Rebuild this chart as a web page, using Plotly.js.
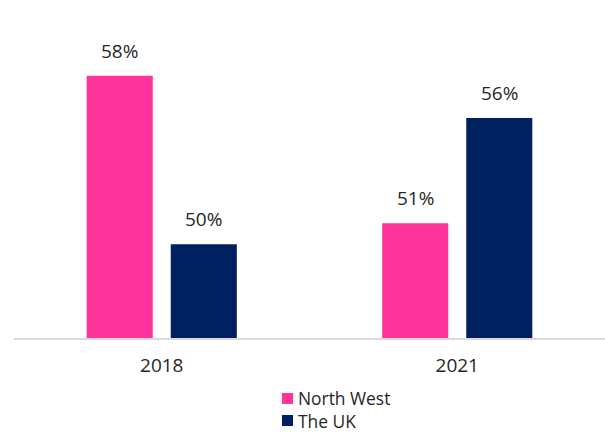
<!DOCTYPE html>
<html>
<head>
<meta charset="utf-8">
<script src="https://cdn.plot.ly/plotly-3.0.1.min.js"></script>
<style>
html,body{margin:0;padding:0;background:#fff;}
#chart{width:605px;height:432px;}
</style>
</head>
<body>
<div id="chart"></div>
<script>
const years = ["2018", "2021"];
const seriesNames = ["North West", "The UK"];
const northWest = [58, 51];
const theUK = [50, 56];
const seriesColors = ["#FF3399", "#002060"];

const values = [northWest, theUK];
const textColor = "#262626";
const fontFamily = "Open Sans, sans-serif";

const traces = values.map((vals, i) => ({
  type: "bar",
  name: seriesNames[i],
  x: years,
  y: vals,
  marker: {color: seriesColors[i]},
  hoverinfo: "skip"
}));

// Data labels via annotations positioned on the data scales (category index)
const barOffset = [-42, 42];
const annotations = [];
values.forEach((vals, i) => {
  vals.forEach((v, j) => {
    annotations.push({
      x: j, y: v, xref: "x", yref: "y",
      xshift: barOffset[i], yshift: 10,
      yanchor: "bottom", xanchor: "center",
      text: v + "%", showarrow: false,
      font: {family: fontFamily, size: 19, color: textColor}
    });
  });
});

// Custom legend (squares + one multi-line label block), paper coords
const plotL = 14, plotW = 591, plotH = 338;
const px = p => (p - plotL) / plotW;
const py = p => (plotH - p) / plotH;
const legendCenters = [398.5, 420.5];
const shapes = [];
seriesNames.forEach((n, i) => {
  const c = legendCenters[i];
  shapes.push({
    type: "rect", xref: "paper", yref: "paper",
    x0: px(282), x1: px(293), y0: py(c + 5.5), y1: py(c - 5.5),
    fillcolor: seriesColors[i], line: {width: 0}
  });
});
annotations.push({
  xref: "paper", yref: "paper", x: px(297),
  y: py((legendCenters[0] + legendCenters[1]) / 2),
  xanchor: "left", yanchor: "middle", align: "left", showarrow: false,
  borderpad: 0,
  text: seriesNames.join("<br>"),
  font: {family: fontFamily, size: 17.4, color: textColor}
});

const layout = {
  width: 605, height: 432,
  margin: {l: plotL, r: 0, t: 0, b: 94, pad: 0},
  paper_bgcolor: "#ffffff", plot_bgcolor: "#ffffff",
  barmode: "group", bargap: 0.431, bargroupgap: 0.214,
  showlegend: false,
  xaxis: {
    type: "category", range: [-0.5, 1.5], autorange: false,
    showline: true, linecolor: "#d9d9d9", linewidth: 2,
    ticks: "", showgrid: false, zeroline: false,
    ticklabelstandoff: 9,
    tickfont: {family: fontFamily, size: 19, color: textColor}
  },
  yaxis: {
    range: [45.55, 61.6], autorange: false, visible: false,
    showgrid: false, zeroline: false
  },
  annotations: annotations,
  shapes: shapes
};

Plotly.newPlot("chart", traces, layout, {displayModeBar: false, staticPlot: true});
</script>
</body>
</html>
